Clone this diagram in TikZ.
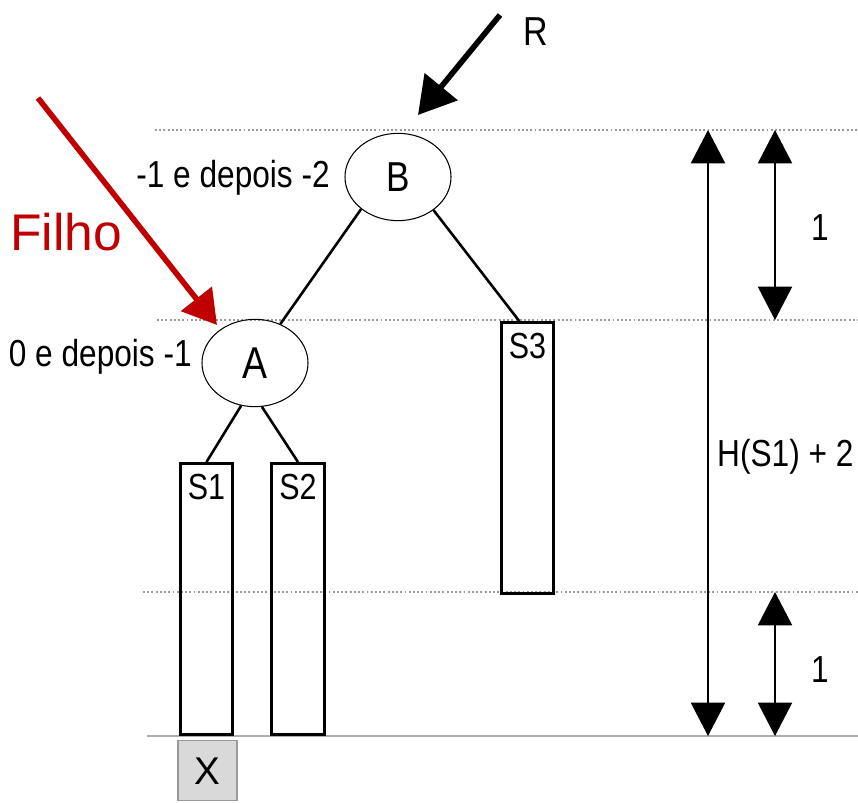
\documentclass[tikz,border=0pt]{standalone}
\usepackage{fontspec}
\usepackage{graphicx}
\setmainfont{Liberation Sans}
\usetikzlibrary{arrows.meta,calc,shapes.geometric}
\definecolor{filhored}{HTML}{C00000}
\definecolor{guidegray}{HTML}{9A9A9A}
\definecolor{xfill}{HTML}{D9D9D9}
\newcommand{\tallx}[1]{\scalebox{1}[1.19]{#1}}
\begin{document}
\begin{tikzpicture}[x=0.03cm,y=-0.03cm,
  lbl/.style={font=\fontsize{27}{32}\selectfont, inner sep=0pt},
  nodeell/.style={ellipse, draw, line width=0.9pt, minimum width=3.18cm, minimum height=2.62cm, inner sep=0pt},
  subtree/.style={rectangle, draw, line width=2.4pt, minimum width=1.58cm, anchor=north, inner sep=0pt},
  edge/.style={line width=2.2pt},
  guide/.style={guidegray, line width=1.6pt, dotted},
  base/.style={guidegray!80, line width=2.2pt},
  dim/.style={line width=1.8pt, {Triangle[width=1.02cm,length=1.0cm]}-{Triangle[width=1.02cm,length=1.0cm]}},
  bigarrow/.style={line width=4.8pt, -{Triangle[width=1.25cm,length=1.1cm]}}
]
\fill[white] (0,0) rectangle (858,802);
\useasboundingbox (0,0) rectangle (858,802);

% guide lines
\coordinate (g1l) at (155,130); \coordinate (g1r) at (858,130);
\coordinate (g2l) at (157,320); \coordinate (g2r) at (858,320);
\coordinate (g3l) at (143,592); \coordinate (g3r) at (858,592);
\coordinate (g4l) at (147,736); \coordinate (g4r) at (858,736);
\draw[guide] (g1l) -- (g1r);
\draw[guide] (g2l) -- (g2r);
\draw[guide] (g3l) -- (g3r);
\draw[base] (g4l) -- (g4r);

% tree nodes
\node[nodeell] (b) at (398,177) {};
\node[lbl, font=\fontsize{30}{34}\selectfont] at (b) {\tallx{B}};
\node[nodeell] (a) at (255,363) {};
\node[lbl, font=\fontsize{32}{36}\selectfont] at (a) {\tallx{A}};
\node[lbl, anchor=east] (bl) at (330,178) {\tallx{-1 e depois -2}};
\node[lbl, anchor=east] (al) at (192,357) {\tallx{0 e depois -1}};

% subtrees
\node[subtree, minimum height=8.13cm] (s1) at (206.5,462) {};
\node[subtree, minimum height=8.13cm] (s2) at (298,462) {};
\node[subtree, minimum height=8.13cm] (s3) at (527.5,321) {};
\node[lbl, font=\fontsize{26}{30}\selectfont, anchor=north] at ($(s1.north)+(0,12)$) {\tallx{S1}};
\node[lbl, font=\fontsize{26}{30}\selectfont, anchor=north] at ($(s2.north)+(0,12)$) {\tallx{S2}};
\node[lbl, font=\fontsize{26}{30}\selectfont, anchor=north] at ($(s3.north)+(0,12)$) {\tallx{S3}};

% X box
\node[rectangle, draw=guidegray, fill=xfill, line width=1.2pt, minimum width=1.77cm, minimum height=1.8cm, anchor=north, inner sep=0pt] (x) at (207.5,740) {};
\node[lbl, font=\fontsize{33}{38}\selectfont] at (x) {X};

% edges
\draw[edge] (b.221) -- (a.57);
\draw[edge] (b.-43) -- ($(s3.north west)!0.35!(s3.north east)$);
\draw[edge] (a.-108) -- (s1.north);
\draw[edge] (a.-81) -- (s2.north);

% R arrow
\coordinate (rs) at (500,15);
\coordinate (rt) at (418,115);
\draw[bigarrow] (rs) -- (rt);
\node[lbl, font=\fontsize{29}{34}\selectfont] (r) at (536,32) {\tallx{R}};

% Filho arrow
\coordinate (fs) at (38,98);
\coordinate (ft) at (217,325);
\draw[bigarrow, filhored, -{Triangle[width=1.15cm,length=1.0cm]}] (fs) -- (ft);
\node[font=\fontsize{44}{50}\selectfont, inner sep=0pt, text=filhored] (filho) at (66,232) {Filho};

% dimension arrows
\coordinate (d1t) at (708,130); \coordinate (d1b) at (708,736);
\coordinate (d2t) at (775,130); \coordinate (d2b) at (775,320);
\coordinate (d3t) at (775,592); \coordinate (d3b) at (775,736);
\draw[dim] (d1t) -- (d1b);
\draw[dim] (d2t) -- (d2b);
\draw[dim] (d3t) -- (d3b);
\node[lbl] (one1) at (820,228) {\tallx{1}};
\node[lbl] (one2) at (820,670) {\tallx{1}};
\node[lbl, anchor=west] (h) at (717,457) {\tallx{H(S1) + 2}};
\end{tikzpicture}
\end{document}
